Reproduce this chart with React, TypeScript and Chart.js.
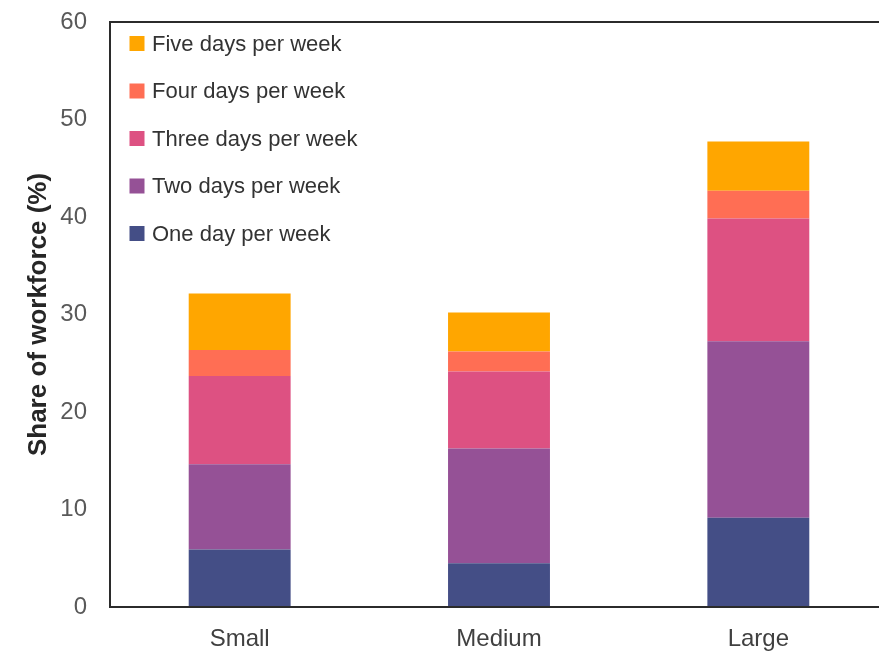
import { useEffect, useRef } from "react";
import { Chart, registerables } from "chart.js";

Chart.register(...registerables);

// Company size groups along the x axis
const categories = ["Small", "Medium", "Large"];

// Share of workforce (%) by number of days worked from home per week
const oneDay = [5.9, 4.5, 9.15];
const twoDays = [8.75, 11.75, 18.1];
const threeDays = [9.05, 7.9, 12.6];
const fourDays = [2.65, 2.05, 2.85];
const fiveDays = [5.8, 4.0, 5.05];

const seriesLabels = [
  "One day per week",
  "Two days per week",
  "Three days per week",
  "Four days per week",
  "Five days per week",
];
const seriesColors = ["#444E86", "#955196", "#DD5182", "#FF6E54", "#FFA600"];

const yMin = 0;
const yMax = 60;
const yStep = 10;

const narrowFont = '"Liberation Sans Narrow", "Arial Narrow", "Liberation Sans", Arial, sans-serif';
const regularFont = '"Liberation Sans", Arial, sans-serif';

// Frame around the plotting area, drawn over the bars like the axis lines
const plotFrame = {
  id: "plotFrame",
  afterDatasetsDraw(chart: any) {
    const { ctx, chartArea } = chart;
    const { left, top, right, bottom } = chartArea;
    ctx.save();
    ctx.strokeStyle = "#2b2b2b";
    ctx.lineWidth = 2;
    ctx.strokeRect(left, top, right - left, bottom - top);
    ctx.restore();
  },
};

// Legend stacked inside the top-left corner of the plot, last series first
const insideLegend = {
  id: "insideLegend",
  afterDraw(chart: any) {
    const { ctx, chartArea } = chart;
    const datasets = chart.data.datasets;
    const boxSize = 15;
    const rowGap = 47.5;
    const firstRowY = 43.5;
    const boxX = chartArea.left + 19.5;
    const textX = chartArea.left + 42;
    ctx.save();
    ctx.font = `22px ${regularFont}`;
    ctx.textBaseline = "middle";
    ctx.textAlign = "left";
    for (let k = 0; k < datasets.length; k++) {
      const ds = datasets[datasets.length - 1 - k];
      const cy = firstRowY + k * rowGap;
      ctx.fillStyle = ds.backgroundColor;
      ctx.fillRect(boxX, cy - boxSize / 2, boxSize, boxSize);
      ctx.fillStyle = "#333333";
      ctx.fillText(ds.label, textX, cy + 1);
    }
    ctx.restore();
  },
};

export default function App() {
  const canvasRef = useRef<HTMLCanvasElement | null>(null);

  useEffect(() => {
    if (!canvasRef.current) return;
    const values = [oneDay, twoDays, threeDays, fourDays, fiveDays];
    const chart = new Chart(canvasRef.current, {
      type: "bar",
      data: {
        labels: categories,
        datasets: values.map((data, i) => ({
          label: seriesLabels[i],
          data,
          backgroundColor: seriesColors[i],
          borderWidth: 0,
          barPercentage: 0.393,
          categoryPercentage: 1,
        })),
      },
      options: {
        animation: false,
        responsive: false,
        devicePixelRatio: 1,
        layout: { padding: { top: 22, right: 2, left: 0, bottom: 0 } },
        plugins: {
          legend: { display: false },
          tooltip: { enabled: false },
        },
        scales: {
          x: {
            stacked: true,
            grid: { display: false, drawTicks: false },
            border: { display: false },
            ticks: {
              color: "#404040",
              padding: 18,
              font: { family: narrowFont, size: 24 },
            },
            afterFit: (scale: any) => {
              scale.height = 46;
            },
          },
          y: {
            stacked: true,
            min: yMin,
            max: yMax,
            grid: { display: false, drawTicks: false },
            border: { display: false },
            ticks: {
              stepSize: yStep,
              color: "#595959",
              padding: 23,
              font: { family: narrowFont, size: 24 },
            },
            title: {
              display: true,
              text: "Share of workforce (%)",
              color: "#262626",
              padding: { top: 23, bottom: 0 },
              font: { family: regularFont, size: 26, weight: "bold" },
            },
            afterFit: (scale: any) => {
              scale.width = 110;
              scale.paddingTop = 0;
              scale.paddingBottom = 0;
            },
          },
        },
      },
      plugins: [plotFrame, insideLegend],
    });
    return () => chart.destroy();
  }, []);

  return (
    <div
      style={{
        position: "fixed",
        left: 0,
        top: 0,
        width: 879,
        height: 653,
        overflow: "hidden",
        background: "#ffffff",
      }}
    >
      <canvas ref={canvasRef} width={890} height={653} style={{ display: "block" }} />
    </div>
  );
}
